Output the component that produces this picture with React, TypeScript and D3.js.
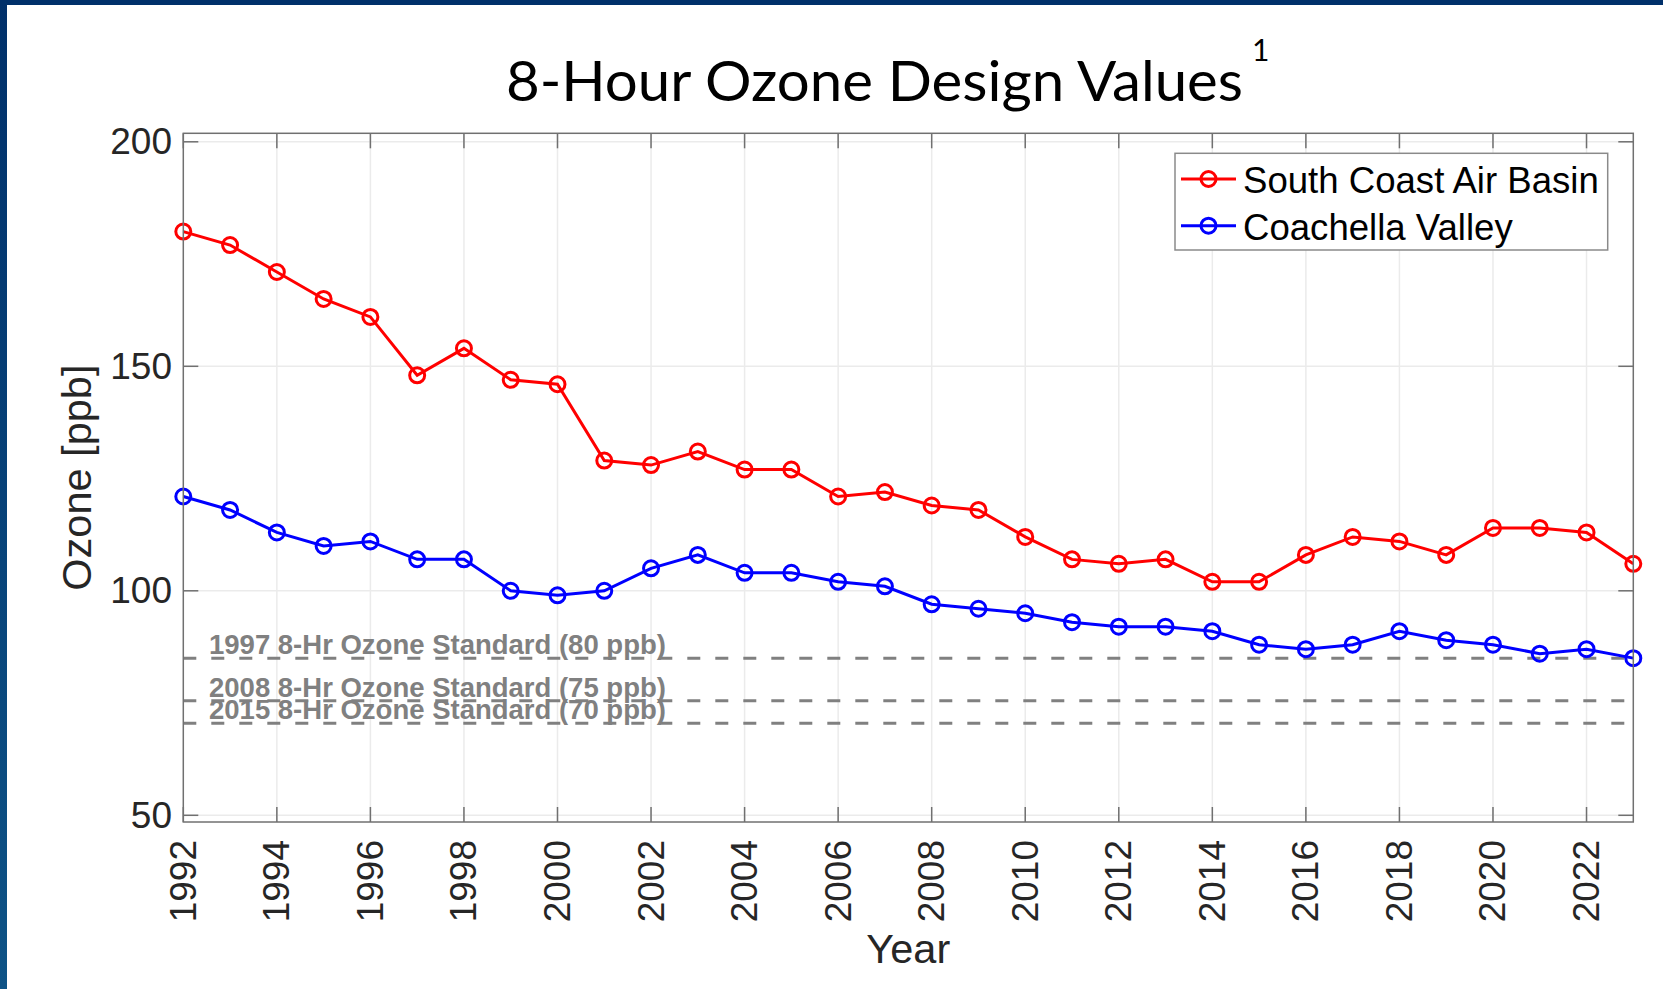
import React from "react";
import * as d3 from "d3";

const years: number[] = d3.range(1992, 2024);
const southCoast: number[] = [180, 177, 171, 165, 161, 148, 154, 147, 146, 129, 128, 131, 127, 127, 121, 122, 119, 118, 112, 107, 106, 107, 102, 102, 108, 112, 111, 108, 114, 114, 113, 106];
const coachella: number[] = [121, 118, 113, 110, 111, 107, 107, 100, 99, 100, 105, 108, 104, 104, 102, 101, 97, 96, 95, 93, 92, 92, 91, 88, 87, 88, 91, 89, 88, 86, 87, 85];
const standards = [
  { label: "1997 8-Hr Ozone Standard (80 ppb)", value: 85 },
  { label: "2008 8-Hr Ozone Standard (75 ppb)", value: 75.5 },
  { label: "2015 8-Hr Ozone Standard (70 ppb)", value: 70.5 },
];
const yTicks: number[] = [50, 100, 150, 200];
const xTicks: number[] = d3.range(1992, 2024, 2);
const seriesNames: string[] = ["South Coast Air Basin", "Coachella Valley"];
const seriesColors: string[] = ["#ff0000", "#0000ff"];

const W = 1663;
const H = 989;
const L = 183.3, R = 1633.3, T = 133.3, B = 822;

export default function App() {
  const x = d3.scaleLinear().domain([1992, 2023]).range([L, R]);
  const y = d3.scaleLinear().domain([50, 200]).range([815.3, 141.8]);
  const line = d3
    .line<[number, number]>()
    .x((d) => x(d[0]))
    .y((d) => y(d[1]));
  const series = [southCoast, coachella];
  const tickFont = "'Liberation Sans', Arial, Helvetica, sans-serif";
  const textColor = "#262626";

  return (
    <svg
      width={W}
      height={H}
      style={{ position: "absolute", left: 0, top: 0, background: "#fff" }}
    >
      <defs>
        <linearGradient id="leftband" x1="0" y1="0" x2="0" y2="1">
          <stop offset="0" stopColor="#00306a" />
          <stop offset="1" stopColor="#0e5386" />
        </linearGradient>
      </defs>
      <rect x={0} y={0} width={W} height={H} fill="#fff" />
      <rect x={0} y={0} width={W} height={5} fill="#00306a" />
      <rect x={0} y={0} width={7} height={H} fill="url(#leftband)" />

      {/* title */}
      <text
        x={506}
        y={101}
        fontFamily="Lato, 'Open Sans', sans-serif"
        fontSize={57}
        textLength={737}
        lengthAdjust="spacingAndGlyphs"
        fill="#000"
      >
        8-Hour Ozone Design Values
      </text>
      <text x={1252} y={61} fontFamily="Lato, 'Open Sans', sans-serif" fontSize={30} fill="#000">
        1
      </text>

      {/* grid */}
      {xTicks.filter((t) => t !== 1992).map((t) => (
        <line key={"gx" + t} x1={x(t)} x2={x(t)} y1={T} y2={B} stroke="#ebebeb" strokeWidth={1.5} />
      ))}
      {yTicks.map((t) => (
        <line key={"gy" + t} x1={L} x2={R} y1={y(t)} y2={y(t)} stroke="#ebebeb" strokeWidth={1.5} />
      ))}

      {/* standard lines */}
      {standards.map((s) => (
        <g key={s.label}>
          <line
            x1={L}
            x2={R}
            y1={y(s.value)}
            y2={y(s.value)}
            stroke="#808080"
            strokeWidth={3}
            strokeDasharray="13,15"
          />
          <text
            x={209}
            y={y(s.value) - 4}
            fontFamily={tickFont}
            fontWeight="bold"
            fontSize={27.5}
            fill="#808080"
          >
            {s.label}
          </text>
        </g>
      ))}

      {/* series */}
      {series.map((vals, i) => {
        const pts: [number, number][] = years.map((yr, j) => [yr, vals[j]]);
        return (
          <g key={"s" + i}>
            <path d={line(pts) || ""} fill="none" stroke={seriesColors[i]} strokeWidth={3} />
            {pts.map((p, j) => (
              <circle
                key={j}
                cx={x(p[0])}
                cy={y(p[1])}
                r={7.5}
                fill="none"
                stroke={seriesColors[i]}
                strokeWidth={3}
              />
            ))}
          </g>
        );
      })}

      {/* axes box */}
      <rect x={L} y={T} width={R - L} height={B - T} fill="none" stroke="#707070" strokeWidth={1.5} />
      {xTicks.map((t) => (
        <g key={"tx" + t}>
          <line x1={x(t)} x2={x(t)} y1={B} y2={B - 15} stroke="#707070" strokeWidth={1.5} />
          <line x1={x(t)} x2={x(t)} y1={T} y2={T + 15} stroke="#707070" strokeWidth={1.5} />
          <text
            transform={`translate(${x(t)},840) rotate(-90)`}
            textAnchor="end"
            dominantBaseline="central"
            fontFamily={tickFont}
            fontSize={37}
            fill={textColor}
          >
            {t}
          </text>
        </g>
      ))}
      {yTicks.map((t) => (
        <g key={"ty" + t}>
          <line x1={L} x2={L + 15} y1={y(t)} y2={y(t)} stroke="#707070" strokeWidth={1.5} />
          <line x1={R} x2={R - 15} y1={y(t)} y2={y(t)} stroke="#707070" strokeWidth={1.5} />
          <text
            x={172}
            y={y(t)}
            textAnchor="end"
            dominantBaseline="central"
            fontFamily={tickFont}
            fontSize={37}
            fill={textColor}
          >
            {t}
          </text>
        </g>
      ))}

      {/* axis titles */}
      <text
        x={(L + R) / 2}
        y={963}
        textAnchor="middle"
        fontFamily={tickFont}
        fontSize={41.5}
        fill={textColor}
      >
        Year
      </text>
      <text
        transform={`translate(91,${(T + B) / 2}) rotate(-90)`}
        textAnchor="middle"
        fontFamily={tickFont}
        fontSize={41.5}
        fill={textColor}
      >
        Ozone [ppb]
      </text>

      {/* legend */}
      <rect x={1175} y={153.3} width={432.7} height={96.7} fill="#fff" stroke="#8a8a8a" strokeWidth={1.5} />
      {seriesNames.map((n, i) => {
        const ly = 179 + i * 46.7;
        return (
          <g key={n}>
            <line x1={1181} x2={1236} y1={ly} y2={ly} stroke={seriesColors[i]} strokeWidth={3} />
            <circle cx={1208.5} cy={ly} r={7.5} fill="none" stroke={seriesColors[i]} strokeWidth={3} />
            <text x={1243} y={ly + 14.3} fontFamily={tickFont} fontSize={36.6} fill="#000">
              {n}
            </text>
          </g>
        );
      })}
    </svg>
  );
}
